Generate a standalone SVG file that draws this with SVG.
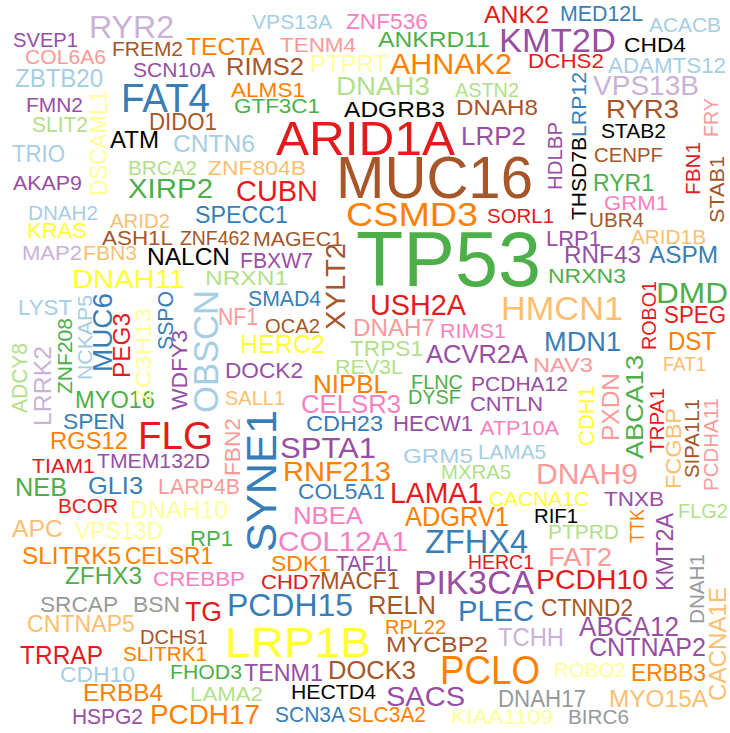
<svg xmlns="http://www.w3.org/2000/svg" width="730" height="733" viewBox="0 0 730 733">
<style>
text{font-family:"Liberation Sans",Arial,Helvetica,sans-serif}
.r{fill:#E41A1C}.pk{fill:#F781BF}.lp{fill:#FB9A99}.o{fill:#FF7F00}.lo{fill:#FDBF6F}.br{fill:#A65628}
.b{fill:#377EB8}.lb{fill:#A6CEE3}.g{fill:#4DAF4A}.lg{fill:#B2DF8A}.p{fill:#984EA3}.lu{fill:#CAB2D6}
.y{fill:#FFFF33}.py{fill:#FFFF99}.gr{fill:#999999}.k{fill:#000000}
</style>
<rect width="730" height="733" fill="#FFFFFF"/>
<g id="words">
<text class="p" x="13" y="47" font-size="21" textLength="65" lengthAdjust="spacingAndGlyphs">SVEP1</text>
<text class="lu" x="89" y="38" font-size="32" textLength="85" lengthAdjust="spacingAndGlyphs">RYR2</text>
<text class="lb" x="252" y="29" font-size="21" textLength="80" lengthAdjust="spacingAndGlyphs">VPS13A</text>
<text class="pk" x="346" y="29" font-size="22" textLength="82" lengthAdjust="spacingAndGlyphs">ZNF536</text>
<text class="r" x="484" y="23" font-size="23" textLength="65" lengthAdjust="spacingAndGlyphs">ANK2</text>
<text class="b" x="560" y="21" font-size="22" textLength="83" lengthAdjust="spacingAndGlyphs">MED12L</text>
<text class="lb" x="649" y="32" font-size="21" textLength="72" lengthAdjust="spacingAndGlyphs">ACACB</text>
<text class="lp" x="25" y="64" font-size="21" textLength="81" lengthAdjust="spacingAndGlyphs">COL6A6</text>
<text class="br" x="112" y="56" font-size="21" textLength="71" lengthAdjust="spacingAndGlyphs">FREM2</text>
<text class="o" x="186" y="55" font-size="24" textLength="79" lengthAdjust="spacingAndGlyphs">TECTA</text>
<text class="lp" x="280" y="52" font-size="21" textLength="76" lengthAdjust="spacingAndGlyphs">TENM4</text>
<text class="g" x="378" y="47" font-size="22" textLength="112" lengthAdjust="spacingAndGlyphs">ANKRD11</text>
<text class="p" x="499" y="52" font-size="34" textLength="117" lengthAdjust="spacingAndGlyphs">KMT2D</text>
<text class="k" x="624" y="52" font-size="21" textLength="62" lengthAdjust="spacingAndGlyphs">CHD4</text>
<text class="lb" x="15" y="87" font-size="25" textLength="88" lengthAdjust="spacingAndGlyphs">ZBTB20</text>
<text class="p" x="133" y="77" font-size="21" textLength="82" lengthAdjust="spacingAndGlyphs">SCN10A</text>
<text class="br" x="226" y="75" font-size="23" textLength="78" lengthAdjust="spacingAndGlyphs">RIMS2</text>
<text class="py" x="310" y="72" font-size="23" textLength="78" lengthAdjust="spacingAndGlyphs">PTPRT</text>
<text class="o" x="390" y="74" font-size="30" textLength="122" lengthAdjust="spacingAndGlyphs">AHNAK2</text>
<text class="r" x="528" y="68" font-size="21" textLength="76" lengthAdjust="spacingAndGlyphs">DCHS2</text>
<text class="lb" x="608" y="73" font-size="22" textLength="118" lengthAdjust="spacingAndGlyphs">ADAMTS12</text>
<text class="p" x="26" y="112" font-size="21" textLength="57" lengthAdjust="spacingAndGlyphs">FMN2</text>
<text class="b" x="121" y="112" font-size="41" textLength="89" lengthAdjust="spacingAndGlyphs">FAT4</text>
<text class="o" x="231" y="97" font-size="21" textLength="74" lengthAdjust="spacingAndGlyphs">ALMS1</text>
<text class="lg" x="336" y="95" font-size="26" textLength="94" lengthAdjust="spacingAndGlyphs">DNAH3</text>
<text class="lg" x="455" y="97" font-size="21" textLength="64" lengthAdjust="spacingAndGlyphs">ASTN2</text>
<text class="lu" x="593" y="95" font-size="28" textLength="106" lengthAdjust="spacingAndGlyphs">VPS13B</text>
<text class="lg" x="32" y="132" font-size="22" textLength="56" lengthAdjust="spacingAndGlyphs">SLIT2</text>
<text class="g" x="234" y="113" font-size="21" textLength="86" lengthAdjust="spacingAndGlyphs">GTF3C1</text>
<text class="k" x="344" y="117" font-size="22" textLength="101" lengthAdjust="spacingAndGlyphs">ADGRB3</text>
<text class="br" x="456" y="115" font-size="22" textLength="82" lengthAdjust="spacingAndGlyphs">DNAH8</text>
<text class="br" x="606" y="118" font-size="26" textLength="73" lengthAdjust="spacingAndGlyphs">RYR3</text>
<text class="br" x="149" y="130" font-size="23" textLength="68" lengthAdjust="spacingAndGlyphs">DIDO1</text>
<text class="k" x="110" y="148" font-size="23" textLength="49" lengthAdjust="spacingAndGlyphs">ATM</text>
<text class="r" x="276" y="155" font-size="49" textLength="179" lengthAdjust="spacingAndGlyphs">ARID1A</text>
<text class="p" x="461" y="145" font-size="25" textLength="65" lengthAdjust="spacingAndGlyphs">LRP2</text>
<text class="k" x="601" y="138" font-size="21" textLength="65" lengthAdjust="spacingAndGlyphs">STAB2</text>
<text class="lb" x="12" y="162" font-size="23" textLength="53" lengthAdjust="spacingAndGlyphs">TRIO</text>
<text class="lb" x="173" y="152" font-size="23" textLength="82" lengthAdjust="spacingAndGlyphs">CNTN6</text>
<text class="br" x="594" y="162" font-size="21" textLength="69" lengthAdjust="spacingAndGlyphs">CENPF</text>
<text class="p" x="13" y="190" font-size="21" textLength="69" lengthAdjust="spacingAndGlyphs">AKAP9</text>
<text class="lg" x="128" y="175" font-size="21" textLength="69" lengthAdjust="spacingAndGlyphs">BRCA2</text>
<text class="lo" x="208" y="175" font-size="21" textLength="98" lengthAdjust="spacingAndGlyphs">ZNF804B</text>
<text class="br" x="336" y="198" font-size="60" textLength="197" lengthAdjust="spacingAndGlyphs">MUC16</text>
<text class="g" x="128" y="198" font-size="28" textLength="85" lengthAdjust="spacingAndGlyphs">XIRP2</text>
<text class="r" x="236" y="201" font-size="29" textLength="82" lengthAdjust="spacingAndGlyphs">CUBN</text>
<text class="g" x="593" y="191" font-size="24" textLength="61" lengthAdjust="spacingAndGlyphs">RYR1</text>
<text class="pk" x="604" y="210" font-size="21" textLength="64" lengthAdjust="spacingAndGlyphs">GRM1</text>
<text class="lb" x="28" y="220" font-size="20" textLength="70" lengthAdjust="spacingAndGlyphs">DNAH2</text>
<text class="b" x="195" y="223" font-size="23" textLength="93" lengthAdjust="spacingAndGlyphs">SPECC1</text>
<text class="o" x="346" y="226" font-size="33" textLength="132" lengthAdjust="spacingAndGlyphs">CSMD3</text>
<text class="r" x="487" y="223" font-size="21" textLength="67" lengthAdjust="spacingAndGlyphs">SORL1</text>
<text class="br" x="589" y="227" font-size="21" textLength="55" lengthAdjust="spacingAndGlyphs">UBR4</text>
<text class="y" x="27" y="238" font-size="22" textLength="60" lengthAdjust="spacingAndGlyphs">KRAS</text>
<text class="lo" x="110" y="228" font-size="21" textLength="60" lengthAdjust="spacingAndGlyphs">ARID2</text>
<text class="g" x="356" y="286" font-size="78" textLength="185" lengthAdjust="spacingAndGlyphs">TP53</text>
<text class="p" x="546" y="246" font-size="22" textLength="55" lengthAdjust="spacingAndGlyphs">LRP1</text>
<text class="lo" x="631" y="244" font-size="20" textLength="75" lengthAdjust="spacingAndGlyphs">ARID1B</text>
<text class="br" x="102" y="245" font-size="21" textLength="71" lengthAdjust="spacingAndGlyphs">ASH1L</text>
<text class="br" x="180" y="245" font-size="21" textLength="70" lengthAdjust="spacingAndGlyphs">ZNF462</text>
<text class="br" x="253" y="246" font-size="20" textLength="90" lengthAdjust="spacingAndGlyphs">MAGEC1</text>
<text class="p" x="564" y="263" font-size="23" textLength="77" lengthAdjust="spacingAndGlyphs">RNF43</text>
<text class="b" x="649" y="263" font-size="23" textLength="69" lengthAdjust="spacingAndGlyphs">ASPM</text>
<text class="lu" x="22" y="260" font-size="21" textLength="60" lengthAdjust="spacingAndGlyphs">MAP2</text>
<text class="lo" x="83" y="260" font-size="21" textLength="54" lengthAdjust="spacingAndGlyphs">FBN3</text>
<text class="k" x="147" y="265" font-size="24" textLength="83" lengthAdjust="spacingAndGlyphs">NALCN</text>
<text class="p" x="240" y="268" font-size="22" textLength="73" lengthAdjust="spacingAndGlyphs">FBXW7</text>
<text class="g" x="548" y="283" font-size="21" textLength="78" lengthAdjust="spacingAndGlyphs">NRXN3</text>
<text class="y" x="72" y="288" font-size="26" textLength="113" lengthAdjust="spacingAndGlyphs">DNAH11</text>
<text class="lg" x="205" y="285" font-size="21" textLength="83" lengthAdjust="spacingAndGlyphs">NRXN1</text>
<text class="g" x="656" y="303" font-size="30" textLength="72" lengthAdjust="spacingAndGlyphs">DMD</text>
<text class="lb" x="18" y="315" font-size="22" textLength="54" lengthAdjust="spacingAndGlyphs">LYST</text>
<text class="b" x="248" y="306" font-size="22" textLength="73" lengthAdjust="spacingAndGlyphs">SMAD4</text>
<text class="r" x="370" y="315" font-size="30" textLength="96" lengthAdjust="spacingAndGlyphs">USH2A</text>
<text class="lo" x="501" y="320" font-size="34" textLength="122" lengthAdjust="spacingAndGlyphs">HMCN1</text>
<text class="r" x="664" y="323" font-size="23" textLength="62" lengthAdjust="spacingAndGlyphs">SPEG</text>
<text class="lp" x="218" y="325" font-size="23" textLength="40" lengthAdjust="spacingAndGlyphs">NF1</text>
<text class="br" x="265" y="333" font-size="21" textLength="55" lengthAdjust="spacingAndGlyphs">OCA2</text>
<text class="lp" x="353" y="336" font-size="23" textLength="82" lengthAdjust="spacingAndGlyphs">DNAH7</text>
<text class="pk" x="440" y="338" font-size="21" textLength="66" lengthAdjust="spacingAndGlyphs">RIMS1</text>
<text class="o" x="668" y="350" font-size="26" textLength="48" lengthAdjust="spacingAndGlyphs">DST</text>
<text class="y" x="240" y="353" font-size="25" textLength="85" lengthAdjust="spacingAndGlyphs">HERC2</text>
<text class="lg" x="350" y="356" font-size="22" textLength="73" lengthAdjust="spacingAndGlyphs">TRPS1</text>
<text class="b" x="544" y="351" font-size="27" textLength="77" lengthAdjust="spacingAndGlyphs">MDN1</text>
<text class="p" x="426" y="363" font-size="25" textLength="102" lengthAdjust="spacingAndGlyphs">ACVR2A</text>
<text class="lg" x="335" y="374" font-size="21" textLength="68" lengthAdjust="spacingAndGlyphs">REV3L</text>
<text class="p" x="225" y="378" font-size="22" textLength="78" lengthAdjust="spacingAndGlyphs">DOCK2</text>
<text class="lp" x="533" y="372" font-size="21" textLength="60" lengthAdjust="spacingAndGlyphs">NAV3</text>
<text class="lo" x="663" y="371" font-size="21" textLength="43" lengthAdjust="spacingAndGlyphs">FAT1</text>
<text class="o" x="313" y="393" font-size="25" textLength="75" lengthAdjust="spacingAndGlyphs">NIPBL</text>
<text class="lo" x="225" y="405" font-size="21" textLength="60" lengthAdjust="spacingAndGlyphs">SALL1</text>
<text class="g" x="411" y="389" font-size="21" textLength="52" lengthAdjust="spacingAndGlyphs">FLNC</text>
<text class="g" x="408" y="404" font-size="21" textLength="53" lengthAdjust="spacingAndGlyphs">DYSF</text>
<text class="p" x="471" y="391" font-size="21" textLength="97" lengthAdjust="spacingAndGlyphs">PCDHA12</text>
<text class="p" x="470" y="411" font-size="21" textLength="73" lengthAdjust="spacingAndGlyphs">CNTLN</text>
<text class="g" x="75" y="408" font-size="23" textLength="80" lengthAdjust="spacingAndGlyphs">MYO16</text>
<text class="pk" x="301" y="413" font-size="26" textLength="100" lengthAdjust="spacingAndGlyphs">CELSR3</text>
<text class="b" x="63" y="429" font-size="22" textLength="62" lengthAdjust="spacingAndGlyphs">SPEN</text>
<text class="b" x="306" y="431" font-size="22" textLength="77" lengthAdjust="spacingAndGlyphs">CDH23</text>
<text class="p" x="393" y="431" font-size="22" textLength="80" lengthAdjust="spacingAndGlyphs">HECW1</text>
<text class="pk" x="480" y="435" font-size="21" textLength="79" lengthAdjust="spacingAndGlyphs">ATP10A</text>
<text class="r" x="138" y="449" font-size="38" textLength="75" lengthAdjust="spacingAndGlyphs">FLG</text>
<text class="o" x="50" y="449" font-size="23" textLength="78" lengthAdjust="spacingAndGlyphs">RGS12</text>
<text class="p" x="280" y="458" font-size="30" textLength="96" lengthAdjust="spacingAndGlyphs">SPTA1</text>
<text class="lb" x="403" y="463" font-size="21" textLength="70" lengthAdjust="spacingAndGlyphs">GRM5</text>
<text class="lb" x="478" y="459" font-size="21" textLength="68" lengthAdjust="spacingAndGlyphs">LAMA5</text>
<text class="r" x="32" y="473" font-size="21" textLength="63" lengthAdjust="spacingAndGlyphs">TIAM1</text>
<text class="p" x="97" y="468" font-size="21" textLength="113" lengthAdjust="spacingAndGlyphs">TMEM132D</text>
<text class="lg" x="441" y="479" font-size="21" textLength="70" lengthAdjust="spacingAndGlyphs">MXRA5</text>
<text class="o" x="283" y="481" font-size="28" textLength="108" lengthAdjust="spacingAndGlyphs">RNF213</text>
<text class="lp" x="536" y="484" font-size="29" textLength="102" lengthAdjust="spacingAndGlyphs">DNAH9</text>
<text class="g" x="15" y="496" font-size="25" textLength="52" lengthAdjust="spacingAndGlyphs">NEB</text>
<text class="b" x="88" y="494" font-size="24" textLength="55" lengthAdjust="spacingAndGlyphs">GLI3</text>
<text class="lp" x="158" y="494" font-size="22" textLength="82" lengthAdjust="spacingAndGlyphs">LARP4B</text>
<text class="b" x="298" y="499" font-size="22" textLength="87" lengthAdjust="spacingAndGlyphs">COL5A1</text>
<text class="r" x="390" y="503" font-size="30" textLength="93" lengthAdjust="spacingAndGlyphs">LAMA1</text>
<text class="y" x="489" y="506" font-size="21" textLength="100" lengthAdjust="spacingAndGlyphs">CACNA1C</text>
<text class="p" x="604" y="506" font-size="21" textLength="60" lengthAdjust="spacingAndGlyphs">TNXB</text>
<text class="r" x="58" y="513" font-size="21" textLength="60" lengthAdjust="spacingAndGlyphs">BCOR</text>
<text class="py" x="130" y="518" font-size="23" textLength="98" lengthAdjust="spacingAndGlyphs">DNAH10</text>
<text class="pk" x="293" y="524" font-size="24" textLength="70" lengthAdjust="spacingAndGlyphs">NBEA</text>
<text class="o" x="405" y="526" font-size="27" textLength="104" lengthAdjust="spacingAndGlyphs">ADGRV1</text>
<text class="k" x="534" y="523" font-size="21" textLength="44" lengthAdjust="spacingAndGlyphs">RIF1</text>
<text class="lg" x="678" y="518" font-size="21" textLength="50" lengthAdjust="spacingAndGlyphs">FLG2</text>
<text class="lo" x="12" y="537" font-size="24" textLength="51" lengthAdjust="spacingAndGlyphs">APC</text>
<text class="py" x="75" y="539" font-size="23" textLength="88" lengthAdjust="spacingAndGlyphs">VPS13D</text>
<text class="g" x="190" y="546" font-size="22" textLength="43" lengthAdjust="spacingAndGlyphs">RP1</text>
<text class="lg" x="548" y="539" font-size="21" textLength="71" lengthAdjust="spacingAndGlyphs">PTPRD</text>
<text class="pk" x="278" y="551" font-size="28" textLength="130" lengthAdjust="spacingAndGlyphs">COL12A1</text>
<text class="b" x="425" y="553" font-size="34" textLength="103" lengthAdjust="spacingAndGlyphs">ZFHX4</text>
<text class="o" x="22" y="564" font-size="23" textLength="99" lengthAdjust="spacingAndGlyphs">SLITRK5</text>
<text class="o" x="125" y="564" font-size="23" textLength="88" lengthAdjust="spacingAndGlyphs">CELSR1</text>
<text class="o" x="271" y="571" font-size="22" textLength="60" lengthAdjust="spacingAndGlyphs">SDK1</text>
<text class="p" x="336" y="571" font-size="22" textLength="62" lengthAdjust="spacingAndGlyphs">TAF1L</text>
<text class="r" x="468" y="569" font-size="21" textLength="66" lengthAdjust="spacingAndGlyphs">HERC1</text>
<text class="lp" x="548" y="566" font-size="26" textLength="64" lengthAdjust="spacingAndGlyphs">FAT2</text>
<text class="g" x="65" y="584" font-size="24" textLength="77" lengthAdjust="spacingAndGlyphs">ZFHX3</text>
<text class="pk" x="153" y="586" font-size="21" textLength="92" lengthAdjust="spacingAndGlyphs">CREBBP</text>
<text class="r" x="261" y="589" font-size="21" textLength="60" lengthAdjust="spacingAndGlyphs">CHD7</text>
<text class="br" x="320" y="589" font-size="23" textLength="80" lengthAdjust="spacingAndGlyphs">MACF1</text>
<text class="p" x="414" y="594" font-size="33" textLength="120" lengthAdjust="spacingAndGlyphs">PIK3CA</text>
<text class="r" x="536" y="589" font-size="28" textLength="112" lengthAdjust="spacingAndGlyphs">PCDH10</text>
<text class="gr" x="40" y="612" font-size="22" textLength="78" lengthAdjust="spacingAndGlyphs">SRCAP</text>
<text class="gr" x="133" y="612" font-size="22" textLength="47" lengthAdjust="spacingAndGlyphs">BSN</text>
<text class="r" x="185" y="621" font-size="28" textLength="37" lengthAdjust="spacingAndGlyphs">TG</text>
<text class="b" x="227" y="616" font-size="31" textLength="126" lengthAdjust="spacingAndGlyphs">PCDH15</text>
<text class="br" x="368" y="614" font-size="25" textLength="68" lengthAdjust="spacingAndGlyphs">RELN</text>
<text class="b" x="458" y="621" font-size="30" textLength="76" lengthAdjust="spacingAndGlyphs">PLEC</text>
<text class="br" x="541" y="616" font-size="23" textLength="92" lengthAdjust="spacingAndGlyphs">CTNND2</text>
<text class="o" x="385" y="634" font-size="21" textLength="61" lengthAdjust="spacingAndGlyphs">RPL22</text>
<text class="lo" x="27" y="632" font-size="23" textLength="108" lengthAdjust="spacingAndGlyphs">CNTNAP5</text>
<text class="p" x="579" y="636" font-size="27" textLength="100" lengthAdjust="spacingAndGlyphs">ABCA12</text>
<text class="lu" x="498" y="646" font-size="25" textLength="66" lengthAdjust="spacingAndGlyphs">TCHH</text>
<text class="br" x="140" y="644" font-size="21" textLength="68" lengthAdjust="spacingAndGlyphs">DCHS1</text>
<text class="br" x="386" y="652" font-size="22" textLength="102" lengthAdjust="spacingAndGlyphs">MYCBP2</text>
<text class="y" x="225" y="657" font-size="43" textLength="146" lengthAdjust="spacingAndGlyphs">LRP1B</text>
<text class="p" x="589" y="656" font-size="25" textLength="117" lengthAdjust="spacingAndGlyphs">CNTNAP2</text>
<text class="r" x="20" y="664" font-size="25" textLength="83" lengthAdjust="spacingAndGlyphs">TRRAP</text>
<text class="o" x="123" y="661" font-size="21" textLength="84" lengthAdjust="spacingAndGlyphs">SLITRK1</text>
<text class="br" x="328" y="679" font-size="25" textLength="88" lengthAdjust="spacingAndGlyphs">DOCK3</text>
<text class="p" x="244" y="681" font-size="23" textLength="79" lengthAdjust="spacingAndGlyphs">TENM1</text>
<text class="o" x="440" y="684" font-size="40" textLength="100" lengthAdjust="spacingAndGlyphs">PCLO</text>
<text class="py" x="554" y="677" font-size="21" textLength="72" lengthAdjust="spacingAndGlyphs">ROBO2</text>
<text class="o" x="631" y="681" font-size="23" textLength="75" lengthAdjust="spacingAndGlyphs">ERBB3</text>
<text class="lb" x="60" y="682" font-size="22" textLength="75" lengthAdjust="spacingAndGlyphs">CDH10</text>
<text class="g" x="170" y="679" font-size="21" textLength="72" lengthAdjust="spacingAndGlyphs">FHOD3</text>
<text class="o" x="83" y="701" font-size="23" textLength="80" lengthAdjust="spacingAndGlyphs">ERBB4</text>
<text class="lg" x="190" y="701" font-size="21" textLength="73" lengthAdjust="spacingAndGlyphs">LAMA2</text>
<text class="k" x="291" y="699" font-size="21" textLength="85" lengthAdjust="spacingAndGlyphs">HECTD4</text>
<text class="p" x="386" y="706" font-size="28" textLength="79" lengthAdjust="spacingAndGlyphs">SACS</text>
<text class="gr" x="498" y="707" font-size="23" textLength="88" lengthAdjust="spacingAndGlyphs">DNAH17</text>
<text class="lo" x="609" y="707" font-size="24" textLength="99" lengthAdjust="spacingAndGlyphs">MYO15A</text>
<text class="p" x="72" y="724" font-size="22" textLength="71" lengthAdjust="spacingAndGlyphs">HSPG2</text>
<text class="o" x="150" y="724" font-size="28" textLength="110" lengthAdjust="spacingAndGlyphs">PCDH17</text>
<text class="b" x="275" y="722" font-size="22" textLength="70" lengthAdjust="spacingAndGlyphs">SCN3A</text>
<text class="o" x="348" y="722" font-size="22" textLength="78" lengthAdjust="spacingAndGlyphs">SLC3A2</text>
<text class="py" x="451" y="724" font-size="21" textLength="102" lengthAdjust="spacingAndGlyphs">KIAA1109</text>
<text class="gr" x="568" y="724" font-size="21" textLength="61" lengthAdjust="spacingAndGlyphs">BIRC6</text>
</g>
<g id="vertical-words">
<text class="py" transform="translate(107,196) rotate(-90)" font-size="23" textLength="106" lengthAdjust="spacingAndGlyphs">DSCAML1</text>
<text class="p" transform="translate(562,190) rotate(-90)" font-size="20" textLength="68" lengthAdjust="spacingAndGlyphs">HDLBP</text>
<text class="b" transform="translate(586,137) rotate(-90)" font-size="21" textLength="65" lengthAdjust="spacingAndGlyphs">LRP12</text>
<text class="k" transform="translate(586,220) rotate(-90)" font-size="21" textLength="83" lengthAdjust="spacingAndGlyphs">THSD7B</text>
<text class="lp" transform="translate(718,137) rotate(-90)" font-size="21" textLength="39" lengthAdjust="spacingAndGlyphs">FRY</text>
<text class="r" transform="translate(700,195) rotate(-90)" font-size="21" textLength="53" lengthAdjust="spacingAndGlyphs">FBN1</text>
<text class="br" transform="translate(724,223) rotate(-90)" font-size="21" textLength="67" lengthAdjust="spacingAndGlyphs">STAB1</text>
<text class="br" transform="translate(345,330) rotate(-90)" font-size="28" textLength="87" lengthAdjust="spacingAndGlyphs">XYLT2</text>
<text class="lg" transform="translate(27,413) rotate(-90)" font-size="22" textLength="70" lengthAdjust="spacingAndGlyphs">ADCY8</text>
<text class="lu" transform="translate(51,426) rotate(-90)" font-size="24" textLength="80" lengthAdjust="spacingAndGlyphs">LRRK2</text>
<text class="g" transform="translate(72,394) rotate(-90)" font-size="21" textLength="76" lengthAdjust="spacingAndGlyphs">ZNF208</text>
<text class="lb" transform="translate(92,380) rotate(-90)" font-size="21" textLength="85" lengthAdjust="spacingAndGlyphs">NCKAP5</text>
<text class="b" transform="translate(112,372) rotate(-90)" font-size="28" textLength="79" lengthAdjust="spacingAndGlyphs">MUC6</text>
<text class="r" transform="translate(130,378) rotate(-90)" font-size="24" textLength="65" lengthAdjust="spacingAndGlyphs">PEG3</text>
<text class="py" transform="translate(151,404) rotate(-90)" font-size="22" textLength="96" lengthAdjust="spacingAndGlyphs">ZC3H13</text>
<text class="b" transform="translate(173,350) rotate(-90)" font-size="22" textLength="59" lengthAdjust="spacingAndGlyphs">SSPO</text>
<text class="p" transform="translate(187,410) rotate(-90)" font-size="22" textLength="80" lengthAdjust="spacingAndGlyphs">WDFY3</text>
<text class="lb" transform="translate(218,413) rotate(-90)" font-size="35" textLength="123" lengthAdjust="spacingAndGlyphs">OBSCN</text>
<text class="lp" transform="translate(240,476) rotate(-90)" font-size="22" textLength="58" lengthAdjust="spacingAndGlyphs">FBN2</text>
<text class="b" transform="translate(276,552) rotate(-90)" font-size="43" textLength="142" lengthAdjust="spacingAndGlyphs">SYNE1</text>
<text class="r" transform="translate(656,350) rotate(-90)" font-size="20" textLength="69" lengthAdjust="spacingAndGlyphs">ROBO1</text>
<text class="g" transform="translate(643,459) rotate(-90)" font-size="24" textLength="104" lengthAdjust="spacingAndGlyphs">ABCA13</text>
<text class="y" transform="translate(594,446) rotate(-90)" font-size="22" textLength="60" lengthAdjust="spacingAndGlyphs">CDH1</text>
<text class="lp" transform="translate(619,441) rotate(-90)" font-size="23" textLength="68" lengthAdjust="spacingAndGlyphs">PXDN</text>
<text class="r" transform="translate(664,453) rotate(-90)" font-size="21" textLength="65" lengthAdjust="spacingAndGlyphs">TRPA1</text>
<text class="lo" transform="translate(681,489) rotate(-90)" font-size="22" textLength="81" lengthAdjust="spacingAndGlyphs">FCGBP</text>
<text class="br" transform="translate(699,478) rotate(-90)" font-size="20" textLength="79" lengthAdjust="spacingAndGlyphs">SIPA1L1</text>
<text class="lp" transform="translate(718,491) rotate(-90)" font-size="21" textLength="93" lengthAdjust="spacingAndGlyphs">PCDHA11</text>
<text class="o" transform="translate(644,543) rotate(-90)" font-size="20" textLength="34" lengthAdjust="spacingAndGlyphs">TTK</text>
<text class="p" transform="translate(673,591) rotate(-90)" font-size="23" textLength="78" lengthAdjust="spacingAndGlyphs">KMT2A</text>
<text class="gr" transform="translate(704,624) rotate(-90)" font-size="21" textLength="70" lengthAdjust="spacingAndGlyphs">DNAH1</text>
<text class="lo" transform="translate(726,701) rotate(-90)" font-size="23" textLength="114" lengthAdjust="spacingAndGlyphs">CACNA1E</text>
</g>
</svg>
